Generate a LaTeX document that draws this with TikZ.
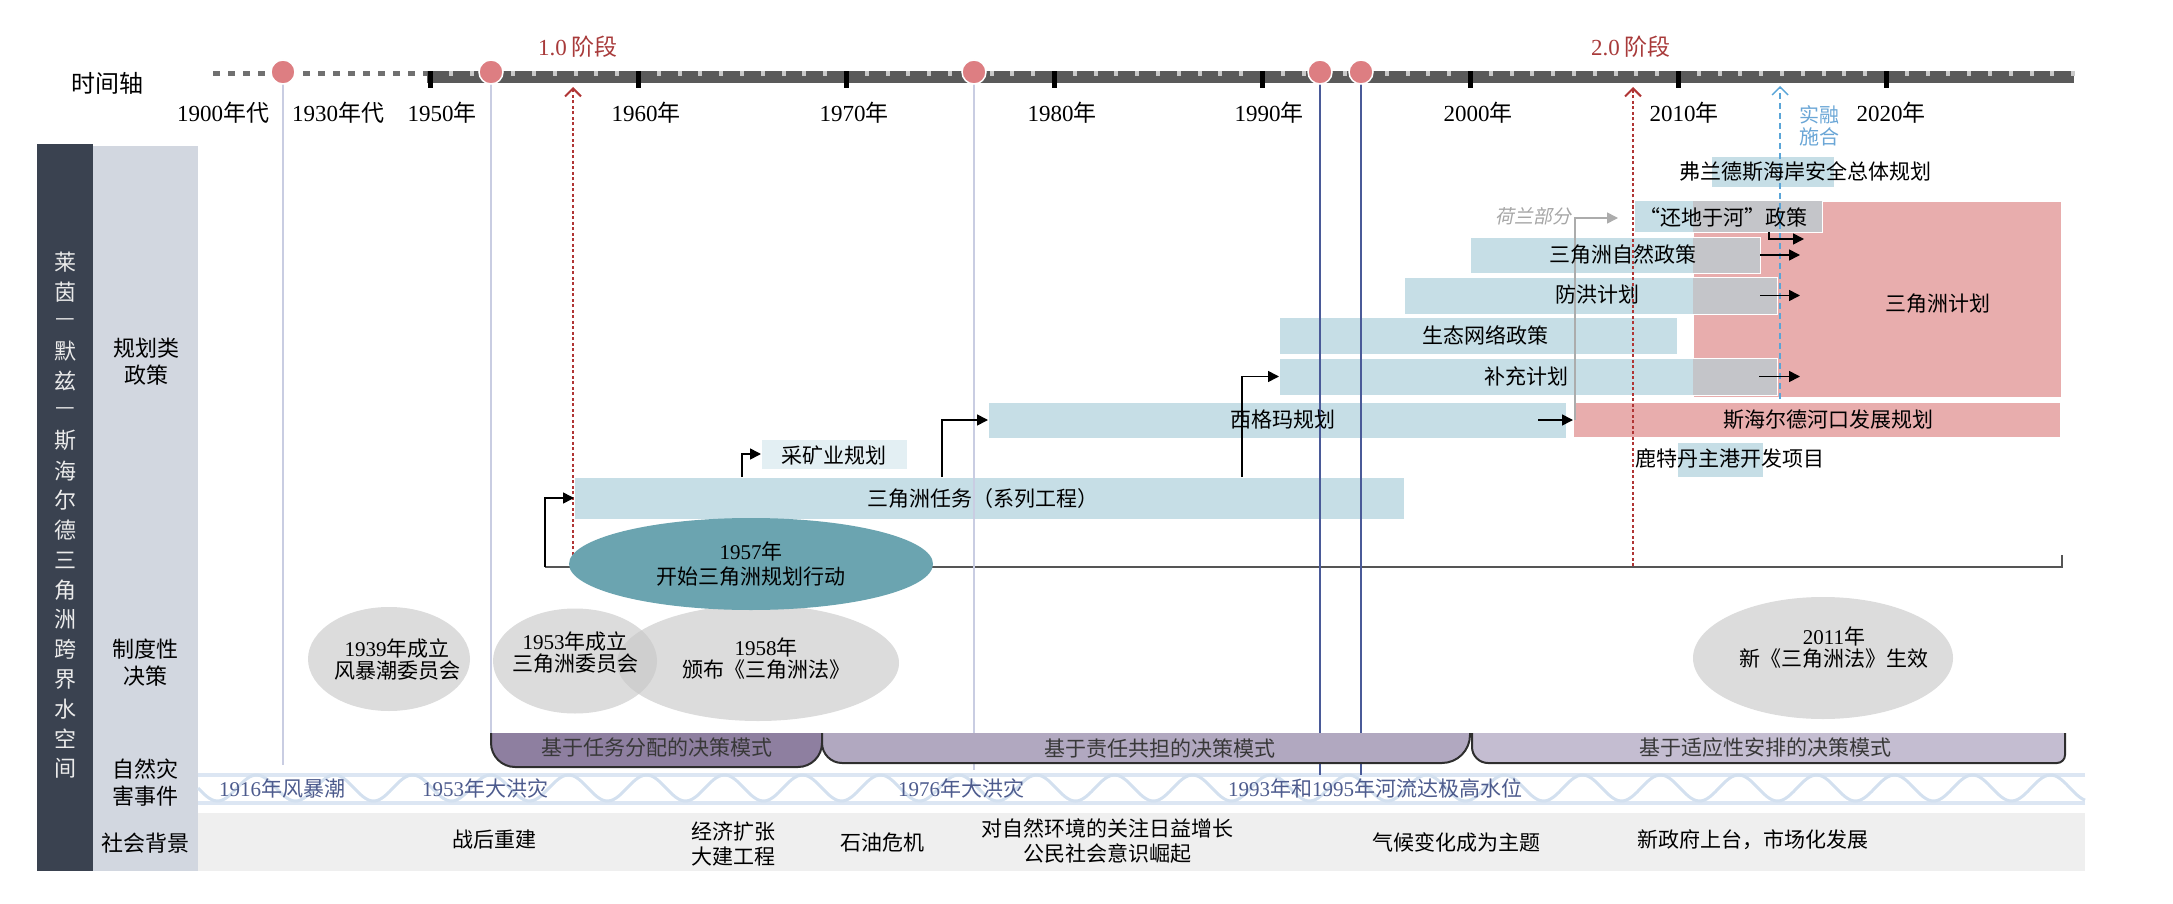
\documentclass[tikz,border=0pt]{standalone}
\usepackage{fontspec}
\setmainfont{Noto Sans CJK SC}
\newfontfamily\dg{Liberation Serif}
\newfontfamily\cjkit[FakeSlant=0.2]{Noto Sans CJK SC}
\usetikzlibrary{arrows.meta,shapes.geometric,calc}

\definecolor{boxblue}{HTML}{C6DEE6}
\definecolor{boxlight}{HTML}{E3EFF3}
\definecolor{boxpink}{HTML}{E8ADAD}
\definecolor{ovgray}{HTML}{C4C5C9}
\definecolor{barcol}{HTML}{5A5A5A}
\definecolor{dashcol}{HTML}{707070}
\definecolor{mintick}{HTML}{C9C9C9}
\definecolor{dotred}{HTML}{B03535}
\definecolor{phred}{HTML}{A83A3A}
\definecolor{pincol}{HTML}{DD7E82}
\definecolor{lavcol}{HTML}{C9CDE2}
\definecolor{navycol}{HTML}{4A5A98}
\definecolor{bluedash}{HTML}{5AA5D8}
\definecolor{bluetext}{HTML}{6AA6D6}
\definecolor{ellteal}{HTML}{6BA4B0}
\definecolor{ellgray}{HTML}{C7C7C7}
\definecolor{darkcol}{HTML}{3A4250}
\definecolor{lightcol}{HTML}{D2D7E0}
\definecolor{modeA}{HTML}{8E7FA0}
\definecolor{modeB}{HTML}{B1A8C0}
\definecolor{modeC}{HTML}{C4BDD1}
\definecolor{modeline}{HTML}{2E2E2E}
\definecolor{floodtext}{HTML}{4D5B8D}
\definecolor{wavecol}{HTML}{D3E0EF}
\definecolor{bandcol}{HTML}{DCE6F3}
\definecolor{socialbg}{HTML}{EFEFEF}
\definecolor{hlinecol}{HTML}{555555}

\tikzset{
  every node/.style={inner sep=0pt, outer sep=0pt, font=\fontsize{21}{25}\selectfont},
  bx/.style={draw=white, line width=1pt, anchor=north west},
  arr/.style={line width=1.6pt, -{Triangle[length=11pt,width=11pt]}},
  grayarr/.style={line width=1.6pt, color=gray!65, -{Triangle[length=11pt,width=11pt]}},
  pinnode/.style={circle, minimum size=24pt, fill=pincol, draw=white, line width=1.5pt},
  yrlab/.style={font=\fontsize{23}{25}\selectfont},
  phlab/.style={font=\fontsize{23}{25}\selectfont, text=phred},
  rowlab/.style={align=center, font=\fontsize{22}{27}\selectfont},
  elltxt/.style={align=center, font=\fontsize{21}{22}\selectfont},
  grayell/.style={ellipse, fill=ellgray, fill opacity=0.63},
  floodlab/.style={text=floodtext},
  modetxt/.style={text=black!78},
  socialtxt/.style={align=center, font=\fontsize{21}{25}\selectfont},
  reddot/.style={line width=2.6pt, color=dotred, dash pattern=on 3pt off 2.5pt, -{Straight Barb[length=8pt,width=16pt,line width=2pt]}},
  bluedashed/.style={line width=1.6pt, color=bluedash, dash pattern=on 6pt off 4pt, -{Straight Barb[length=8pt,width=16pt,line width=1.4pt]}},
  lavline/.style={line width=1.6pt, color=lavcol},
  navyline/.style={line width=1.4pt, color=navycol},
  modeedge/.style={line width=2pt, color=modeline},
}

\newcommand\mybox[6]{\node[bx, fill=#6, minimum width=#4pt-#2pt, minimum height=#5pt-#3pt] (#1) at (#2,#3) {};}
\newcommand\modeshape[7]{%
  \fill[#7] (#1,#3) -- (#1,#4-#5) .. controls (#1,#4-0.45*#5) and (#1+0.45*#5,#4) .. (#1+#5,#4)
    -- (#2-#6,#4) .. controls (#2-0.45*#6,#4) and (#2,#4-0.45*#6) .. (#2,#4-#6) -- (#2,#3) -- cycle;
  \draw[modeedge] (#1,#3) -- (#1,#4-#5) .. controls (#1,#4-0.45*#5) and (#1+0.45*#5,#4) .. (#1+#5,#4)
    -- (#2-#6,#4) .. controls (#2-0.45*#6,#4) and (#2,#4-0.45*#6) .. (#2,#4-#6) -- (#2,#3);
}

\begin{document}
\begin{tikzpicture}[x=1pt,y=-1pt]
\useasboundingbox (0,0) rectangle (2173,904);

% ---------- left columns ----------
\fill[darkcol] (37,144) rectangle (93,871);
\fill[lightcol] (93,146) rectangle (198,871);
\foreach \c [count=\i from 0] in {莱,茵,—,默,兹,—,斯,海,尔,德,三,角,洲,跨,界,水,空,间}{
  \node[text=white!92!black, font=\fontsize{22}{24}\selectfont] (vt\i) at (65,{262+\i*29.8}) {\c};
}
\node[rowlab] (rowplan) at (146,361.5) {规划类\\政策};
\node[rowlab] (rowinst) at (145,663) {制度性\\决策};
\node[rowlab] (rowflood) at (145,783) {自然灾\\害事件};
\node[rowlab] (rowsoc) at (145,843) {社会背景};

% ---------- bands ----------
\fill[socialbg] (198,813) rectangle (2085,871);
\draw[line width=4pt, color=bandcol] (198,774.5) -- (2085,774.5);
\draw[line width=4pt, color=bandcol] (198,802.5) -- (2085,802.5);
\draw[line width=3pt, color=wavecol] plot[domain=198:2085, samples=700] (\x,{788+13*sin((\x-198)/78*360)});

% ---------- policy boxes ----------
\mybox{deltaplan}{1693}{202}{2061}{397}{boxpink}
\mybox{scheldt}{1573}{402}{2060}{437}{boxpink}
\mybox{task}{574}{477}{1404}{519}{boxblue}
\mybox{mining}{761}{439}{907}{469}{boxlight}
\mybox{sigma}{988}{402}{1566}{438}{boxblue}
\mybox{eco}{1279}{317}{1677}{354}{boxblue}
\mybox{supp}{1279}{358}{1777}{395}{boxblue}
\mybox{flood}{1404}{277}{1777}{314}{boxblue}
\mybox{nature}{1470}{237}{1760}{273}{boxblue}
\mybox{room}{1634}{201}{1822}{232}{boxblue}
\mybox{flanders}{1711}{157}{1834}{188}{boxblue}
\mybox{rotterdam}{1677}{442}{1763}{477}{boxblue}
\fill[ovgray] (1693,201.5) rectangle (1821.5,231.5);
\fill[ovgray] (1693,237.5) rectangle (1759.5,272.5);
\fill[ovgray] (1693,277.5) rectangle (1776.5,313.5);
\fill[ovgray] (1693,358.5) rectangle (1776.5,394.5);

% ---------- institutional ellipses ----------
\node[grayell, minimum width=162pt, minimum height=104pt] (e1939) at (389,659) {};
\node[grayell, minimum width=164pt, minimum height=105pt] (e1953) at (575,661) {};
\node[grayell, minimum width=282pt, minimum height=116pt] (e1958) at (758,663) {};
\node[grayell, minimum width=260pt, minimum height=122pt] (e2011) at (1823,658) {};

% ---------- baseline under planning ----------
\coordinate (hll) at (545,567);
\coordinate (hlr) at (2062,567);
\draw[line width=2pt, color=hlinecol] ([yshift=12pt]hlr) -- (hlr) -- (hll);

% ---------- vertical guide lines ----------
\coordinate (g1) at (283,72); \coordinate (g1b) at (283,765);
\coordinate (g2) at (491,72); \coordinate (g2b) at (491,735);
\coordinate (g3) at (974,72); \coordinate (g3b) at (974,770);
\coordinate (g4) at (1320,72); \coordinate (g4b) at (1320,775);
\coordinate (g5) at (1361,72); \coordinate (g5b) at (1361,775);
\draw[lavline] (g1) -- (g1b);
\draw[lavline] (g2) -- (g2b);
\draw[lavline] (g3) -- (g3b);
\draw[navyline] (g4) -- (g4b);
\draw[navyline] (g5) -- (g5b);

\coordinate (ph1top) at (573,87); \coordinate (ph1bot) at (573,560);
\coordinate (ph2top) at (1633,87); \coordinate (ph2bot) at (1633,566);
\coordinate (bltop) at (1780,86); \coordinate (blbot) at (1780,399);
\draw[reddot] (ph1bot) -- (ph1top);
\draw[reddot] (ph2bot) -- (ph2top);
\draw[bluedashed] (blbot) -- (bltop);

% ---------- 1957 ellipse ----------
\node[ellipse, fill=ellteal, minimum width=364pt, minimum height=92pt, align=center, font=\fontsize{21}{25}\selectfont] (e1957) at (751,564) {{\dg 1957}年\\开始三角洲规划行动};

% ---------- decision-mode brackets ----------
\modeshape{491}{822}{733}{767}{24}{24}{modeA}
\modeshape{822}{1470}{733}{763}{20}{28}{modeB}
\modeshape{1472}{2065}{733}{763}{16}{8}{modeC}

% ---------- connectors ----------
\draw[arr] (hll) |- (task.west);
\draw[arr] ([xshift=168pt]task.north west) |- (mining.west);
\draw[arr] ([xshift=368pt]task.north west) |- (sigma.west);
\draw[arr] ([xshift=668pt]task.north west) |- (supp.west);
\draw[arr] ([xshift=-28pt]sigma.east) -- (sigma.east -| scheldt.west);
\coordinate (nltip) at (1618,218);
\draw[grayarr] ([xshift=2pt]scheldt.west) |- (nltip);
\coordinate (tipx) at (1800,0);
\coordinate (roomtip) at (1804,239);
\draw[arr] (nature.east) -- (nature.east -| tipx);
\draw[arr] ([xshift=-17pt]flood.east) -- (flood.east -| tipx);
\draw[arr] ([xshift=-18pt]supp.east) -- (supp.east -| tipx);
\draw[arr] ([xshift=-53pt]room.south east) |- (roomtip);

% ---------- timeline ----------
\draw[line width=5.5pt, color=dashcol, dash pattern=on 7pt off 8pt] (213,73.5) -- (427,73.5);
\fill[barcol] (427,71) rectangle (2074,83);
\foreach \yr in {1951,...,2029}{
  \pgfmathsetmacro\xx{430+(\yr-1950)*20.8}
  \pgfmathtruncatemacro\mm{mod(\yr,10)}
  \ifnum\mm=0\else\fill[mintick] (\xx-2,71) rectangle (\xx+2,76.5);\fi
}
\foreach \yr in {1950,1960,...,2020}{
  \pgfmathsetmacro\xx{430+(\yr-1950)*20.8}
  \fill[black] (\xx-2.5,71) rectangle (\xx+2.5,88);
}
\node[pinnode] (c1900) at (g1) {};
\node[pinnode] (c1953) at (g2) {};
\node[pinnode] (c1976) at (g3) {};
\node[pinnode] (c1993) at (g4) {};
\node[pinnode] (c1995) at (g5) {};

\node[font=\fontsize{24}{26}\selectfont] (axistitle) at (107,83) {时间轴};
\node[yrlab] (y1900) at (223,113) {{\dg 1900}年代};
\node[yrlab] (y1930) at (338,113) {{\dg 1930}年代};
\node[yrlab] (y1950) at (442,113) {{\dg 1950}年};
\node[yrlab] (y1960) at (646,113) {{\dg 1960}年};
\node[yrlab] (y1970) at (854,113) {{\dg 1970}年};
\node[yrlab] (y1980) at (1062,113) {{\dg 1980}年};
\node[yrlab] (y1990) at (1269,113) {{\dg 1990}年};
\node[yrlab] (y2000) at (1478,113) {{\dg 2000}年};
\node[yrlab] (y2010) at (1684,113) {{\dg 2010}年};
\node[yrlab] (y2020) at (1891,113) {{\dg 2020}年};
\node[phlab] (ph1lab) at (578,47) {{\dg 1.0} 阶段};
\node[phlab] (ph2lab) at (1631,47) {{\dg 2.0} 阶段};
\node[align=center, text=bluetext, font=\fontsize{20}{22}\selectfont] (shrh) at (1819,126) {实融\\施合};

% ---------- box texts ----------
\node (t-task) at (983,499) {三角洲任务（系列工程）};
\node (t-mining) at (834,455) {采矿业规划};
\node (t-sigma) at (1283,420) {西格玛规划};
\node (t-eco) at (1485,335.5) {生态网络政策};
\node (t-supp) at (1526,376) {补充计划};
\node (t-flood) at (1597,295) {防洪计划};
\node (t-nature) at (1623,255) {三角洲自然政策};
\node (t-room) at (1723,217) {“还地于河”政策};
\node (t-flanders) at (1805,172) {弗兰德斯海岸安全总体规划};
\node (t-delta) at (1938,304) {三角洲计划};
\node (t-scheldt) at (1828,419.5) {斯海尔德河口发展规划};
\node (t-rotterdam) at (1730,458) {鹿特丹主港开发项目};
\node[text=gray!70, font=\cjkit\fontsize{19}{21}\selectfont] (t-nl) at (1533,216) {荷兰部分};

% ---------- ellipse texts ----------
\node[elltxt] (t1939) at (397,659) {{\dg 1939}年成立\\风暴潮委员会};
\node[elltxt] (t1953) at (575,653) {{\dg 1953}年成立\\三角洲委员会};
\node[elltxt] (t1958) at (766,659) {{\dg 1958}年\\颁布《三角洲法》};
\node[elltxt] (t2011) at (1834,648) {{\dg 2011}年\\新《三角洲法》生效};

% ---------- mode texts ----------
\node[modetxt] (m1) at (657,748) {基于任务分配的决策模式};
\node[modetxt] (m2) at (1160,748) {基于责任共担的决策模式};
\node[modetxt] (m3) at (1765,748) {基于适应性安排的决策模式};

% ---------- flood texts ----------
\node[floodlab] (f1916) at (282,788) {{\dg 1916}年风暴潮};
\node[floodlab] (f1953) at (485,788) {{\dg 1953}年大洪灾};
\node[floodlab] (f1976) at (961,788) {{\dg 1976}年大洪灾};
\node[floodlab] (f1993) at (1375,788) {{\dg 1993}年和{\dg 1995}年河流达极高水位};

% ---------- social texts ----------
\node[socialtxt] (s1) at (494,840) {战后重建};
\node[socialtxt] (s2) at (733,844) {经济扩张\\大建工程};
\node[socialtxt] (s3) at (882,843) {石油危机};
\node[socialtxt] (s4) at (1107,841) {对自然环境的关注日益增长\\公民社会意识崛起};
\node[socialtxt] (s5) at (1456,842) {气候变化成为主题};
\node[socialtxt] (s6) at (1753,840) {新政府上台，市场化发展};

\end{tikzpicture}
\end{document}
